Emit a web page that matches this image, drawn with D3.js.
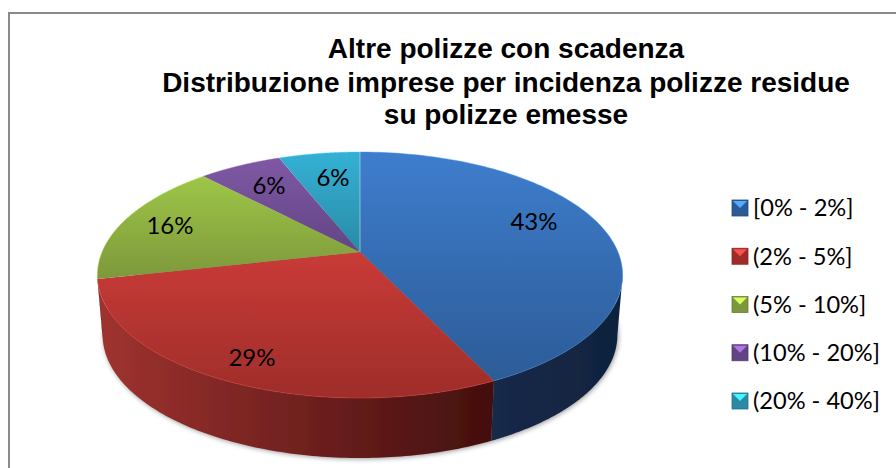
<!DOCTYPE html>
<html><head><meta charset="utf-8">
<script src="https://cdn.jsdelivr.net/npm/d3@7"></script>
<style>html,body{margin:0;padding:0;background:#fff}svg{display:block}</style>
</head><body><svg id="c" width="896" height="468"></svg>
<script>
const legendLabels = ["[0% - 2%]","(2% - 5%]","(5% - 10%]","(10% - 20%]","(20% - 40%]"];
const values = [42.9,28.6,16.4,6.1,6.0];
const titleLines = ["Altre polizze con scadenza","Distribuzione imprese per incidenza polizze residue","su polizze emesse"];
const topLight = ["#3e7dcd","#c93b37","#9ec647","#7f58a5","#34b1d5"];
const topDark  = ["#2c5c97","#9e2d2a","#7d983c","#624584","#2a8aa6"];
const wallLight= ["#16294a","#a03330","#000","#000","#000"];
const wallDark = ["#10233c","#430f0e","#000","#000","#000"];

const svg = d3.select("#c");
const defs = svg.append("defs");
const W=896,H=468;
svg.append("rect").attr("width",W).attr("height",H).attr("fill","#fff");
svg.append("rect").attr("x",9).attr("y",13).attr("width",W).attr("height",H).attr("fill","#fff").attr("stroke","#8a8a8a").attr("stroke-width",2);

const apex=[360,252], R=258, B=118.7, k=0.187, depth=60, shrink=0.98;
function proj(a,level){
  const u=Math.sin(a), v=-Math.cos(a), w=1-k*v;
  const s=level?shrink:1;
  return [apex[0]+R*s*u/w, apex[1]+B*v/w+(level?depth:0)];
}
const pie=d3.pie().sort(null).value(d=>d);
const arcs=pie(values);
const line=d3.line();
const samples=(a0,a1)=>d3.range(0,121).map(i=>a0+(a1-a0)*i/120);

defs.append("filter").attr("id","blur").attr("x","-10%").attr("y","-10%").attr("width","120%").attr("height","120%")
  .append("feGaussianBlur").attr("stdDeviation",2.5);
defs.append("filter").attr("id","soft").attr("x","-5%").attr("y","-5%").attr("width","110%").attr("height","110%")
  .append("feGaussianBlur").attr("stdDeviation",0.55);
const full=samples(0,2*Math.PI);
svg.append("path").attr("d",line(full.map(a=>proj(a,1)))+"Z").attr("fill","#000").attr("opacity",.4)
  .attr("transform","translate(1,1)").attr("filter","url(#blur)");

const pieG=svg.append("g").attr("filter","url(#soft)");
const aRight=Math.PI/2+0.19, aLeft=3*Math.PI/2-0.19;
arcs.forEach((d,i)=>{
  const a0=Math.max(d.startAngle,aRight), a1=Math.min(d.endAngle,aLeft);
  if(a1<=a0) return;
  const g=defs.append("linearGradient").attr("id","w"+i).attr("gradientUnits","userSpaceOnUse")
    .attr("x1",i==1?95:493).attr("x2",i==1?493:622).attr("y1",0).attr("y2",0);
  g.append("stop").attr("offset",0).attr("stop-color",wallLight[i]);
  g.append("stop").attr("offset",1).attr("stop-color",wallDark[i]);
  const topEdge=samples(a0,a1).map(a=>proj(a,0));
  const botEdge=samples(a1,a0).map(a=>proj(a,1));
  pieG.append("path").attr("d",line(topEdge.concat(botEdge))+"Z").attr("fill",`url(#w${i})`);
});
arcs.forEach((d,i)=>{
  const g=defs.append("linearGradient").attr("id","t"+i).attr("x1",0).attr("x2",0).attr("y1",0).attr("y2",1);
  g.append("stop").attr("offset",0).attr("stop-color",topLight[i]);
  g.append("stop").attr("offset",1).attr("stop-color",topDark[i]);
  const pts=[apex].concat(samples(d.startAngle,d.endAngle).map(a=>proj(a,0)));
  pieG.append("path").attr("d",line(pts)+"Z").attr("fill",`url(#t${i})`);
});
arcs.forEach((d,i)=>{
  pieG.append("path").attr("d",line(samples(d.startAngle,d.endAngle).map(a=>proj(a,0))))
    .attr("fill","none").attr("stroke",d3.color(topLight[i]).brighter(.4)).attr("stroke-width",1).attr("opacity",.45);
});
pieG.append("path").attr("d",line([apex,proj(0,0)])).attr("stroke","#bfe0ea").attr("stroke-width",.8).attr("opacity",.8);

const labelPos=[[534,222],[252,358],[170,226],[269,186],[333,178]];
svg.append("g").selectAll("text").data(values).join("text")
  .attr("x",(d,i)=>labelPos[i][0]).attr("y",(d,i)=>labelPos[i][1]).attr("dy","0.35em")
  .attr("text-anchor","middle").attr("font-family","Lato, 'Open Sans', sans-serif").attr("font-size",24).attr("fill","#000")
  .text(d=>Math.round(d)+"%");

svg.append("g").selectAll("text").data(titleLines).join("text")
  .attr("x",506).attr("y",(d,i)=>[58,92,124][i])
  .attr("text-anchor","middle").attr("font-family","'Liberation Sans', Arial, sans-serif")
  .attr("font-weight","bold").attr("font-size",28).attr("fill","#000").text(d=>d);

const legY=d3.scalePoint().domain(legendLabels).range([208,401]);
const lg=svg.append("g").selectAll("g").data(legendLabels).join("g").attr("transform",d=>`translate(732,${legY(d)})`);
lg.each(function(d,i){
  const g=d3.select(this), s=16;
  g.append("rect").attr("x",0).attr("y",-8).attr("width",s).attr("height",s).attr("fill",topDark[i]).attr("stroke",d3.color(topDark[i]).darker(.5)).attr("stroke-width",.8);
  g.append("path").attr("d",line([[1,-7],[15,-7],[8,0]])+"Z").attr("fill",d3.color(topLight[i]).brighter(.9));
  g.append("text").attr("x",21).attr("dy","0.35em").attr("font-family","Lato, 'Open Sans', sans-serif").attr("font-size",23.6).attr("fill","#000").text(d);
});
</script></body></html>
